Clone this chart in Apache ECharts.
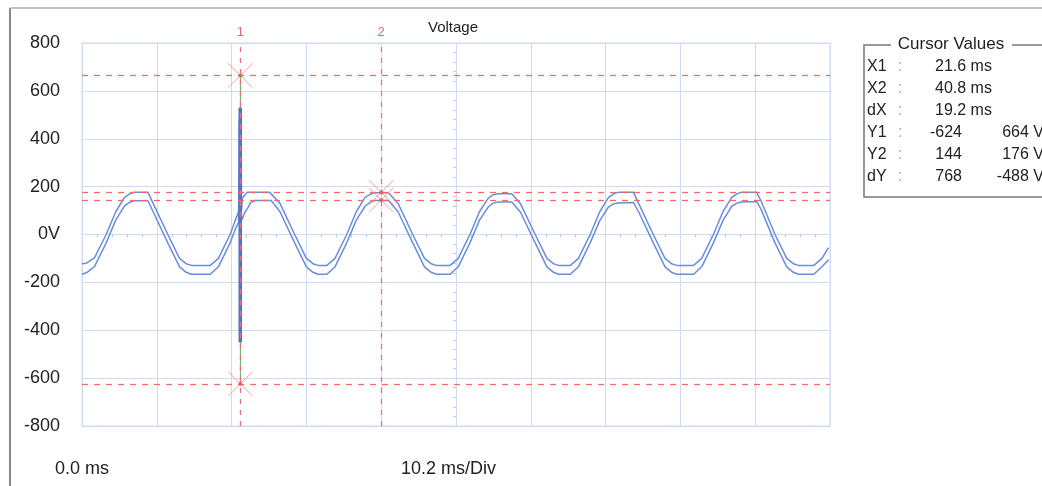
<!DOCTYPE html>
<html>
<head>
<meta charset="utf-8">
<script src="https://cdn.jsdelivr.net/npm/echarts@6/dist/echarts.min.js"></script>
<style>
html,body{margin:0;padding:0;background:#fff;}
#chart{width:1042px;height:486px;}
</style>
</head>
<body>
<div id="chart"></div>
<script>
// ---- data (time in ms, voltage in V) ----
const upperTrace = [
  [0,-122],[0.6,-120],[1.7,-98],[3.3,0],[4.6,95],[5.8,155],[6.5,170],[7.1,176],[9.0,176],[9.7,130],[11.7,0],[13.3,-100],[14.2,-122],[14.9,-129],
  [17.5,-129],[18.6,-100],[20.2,0],[21.0,68],[21.35,95],
  [21.45,250],[21.5,530],[21.54,-450],[21.58,520],[21.62,-440],[21.66,258],[21.69,-104],[21.72,258],[21.76,100],[21.85,150],[22.2,165],[22.5,176],
  [25.6,176],[27.0,130],[29.0,0],[30.6,-100],[31.5,-122],[32.2,-129],
  [33.4,-129],[34.5,-100],[36.1,0],[37.4,95],[38.6,155],[39.3,168],[39.9,174],[41.8,174],[43.1,130],[45.1,0],[46.7,-100],[47.6,-122],[48.3,-129],
  [50.2,-129],[51.3,-100],[52.9,0],[54.2,95],[55.4,152],[56.0,165],[56.7,170],[58.6,170],[59.8,128],[61.8,0],[63.4,-100],[64.3,-122],[65.0,-129],
  [66.6,-129],[67.7,-100],[69.3,0],[70.6,95],[71.8,155],[72.5,170],[73.1,176],[75.2,176],[75.9,130],[77.9,0],[79.5,-100],[80.4,-122],[81.1,-129],
  [83.4,-129],[84.5,-100],[86.1,0],[87.4,95],[88.6,155],[89.3,170],[89.9,176],[92.0,176],[92.6,140],[94.5,0],[96.1,-100],[97.0,-122],[97.7,-129],
  [99.8,-129],[100.9,-100],[101.8,-55]
];
const lowerTrace = [
  [0,-166],[0.6,-160],[1.7,-134],[3.3,-35],[4.6,60],[5.8,120],[6.5,135],[7.1,141],[9.0,141],[9.7,95],[11.7,-35],[13.3,-135],[14.2,-158],[14.9,-166],
  [17.5,-166],[18.6,-135],[20.2,-35],[21.0,30],[21.35,50],
  [21.45,480],[21.52,-440],[21.56,500],[21.6,-430],[21.64,-80],[21.7,90],[21.78,60],[22.2,92],[22.6,110],[23.0,133],[23.6,142],
  [25.8,142],[27.0,95],[29.0,-35],[30.6,-135],[31.5,-158],[32.2,-166],
  [33.4,-166],[34.5,-135],[36.1,-35],[37.4,60],[38.6,118],[39.3,134],[39.9,142],[41.8,142],[43.1,95],[45.1,-35],[46.7,-135],[47.6,-158],[48.3,-166],
  [50.2,-166],[51.3,-135],[52.9,-35],[54.2,60],[55.4,115],[56.0,130],[56.7,136],[58.6,136],[59.8,93],[61.8,-35],[63.4,-135],[64.3,-158],[65.0,-166],
  [66.6,-166],[67.7,-135],[69.3,-35],[70.6,58],[71.8,115],[72.5,128],[73.1,132],[75.2,134],[75.9,95],[77.9,-35],[79.5,-135],[80.4,-158],[81.1,-166],
  [83.4,-166],[84.5,-135],[86.1,-35],[87.4,58],[88.6,118],[89.3,131],[89.9,136],[92.0,138],[92.6,105],[94.5,-35],[96.1,-135],[97.0,-158],[97.7,-166],
  [99.8,-166],[100.9,-135],[101.8,-105]
];
const spikeBand = [[21.58,530],[21.58,-450]];
const spikeLine = [[21.6,664],[21.6,-624]];
const cursorX = [21.6, 40.8];
const cursorY1 = [-624, 664];
const cursorY2 = [144, 176];
const cursorNames = ['1','2'];
const yTickLabels = {'-800':'-800','-600':'-600','-400':'-400','-200':'-200','0':'0V','200':'200','400':'400','600':'600','800':'800'};
const timeDiv = 10.2;
const divisions = 10;
const startLabel = '0.0 ms';
const divLabel = '10.2 ms/Div';

// ---- chart ----
const FONT = "'Liberation Sans', Arial, sans-serif";
const chart = echarts.init(document.getElementById('chart'), null, {renderer:'canvas'});

const dX = (cursorX[1]-cursorX[0]).toFixed(1);
const dY = [cursorY2[0]-cursorY1[0], cursorY2[1]-cursorY1[1]];
const rows = [
  {k:'X1', b:cursorX[0].toFixed(1)+' ms'},
  {k:'X2', b:cursorX[1].toFixed(1)+' ms'},
  {k:'dX', b:dX+' ms'},
  {k:'Y1', a:String(cursorY1[0]), c:cursorY1[1]+' V'},
  {k:'Y2', a:String(cursorY2[0]), c:cursorY2[1]+' V'},
  {k:'dY', a:String(dY[0]), c:dY[1]+' V'}
];
const rowY0 = 67, rowStep = 22;
const boxTexts = [];
rows.forEach((r,i)=>{
  const y = rowY0 + i*rowStep;
  boxTexts.push({type:'text', x:867, y:y, style:{text:r.k, font:'16px '+FONT, fill:'#222', verticalAlign:'middle', align:'left'}});
  boxTexts.push({type:'text', x:898, y:y, style:{text:':', font:'16px '+FONT, fill:'#aaa', verticalAlign:'middle', align:'left'}});
  if (r.c === undefined) {
    boxTexts.push({type:'text', x:935, y:y, style:{text:r.b, font:'16px '+FONT, fill:'#222', verticalAlign:'middle', align:'left'}});
  } else {
    boxTexts.push({type:'text', x:962, y:y, style:{text:r.a, font:'16px '+FONT, fill:'#222', verticalAlign:'middle', align:'right'}});
    boxTexts.push({type:'text', x:1044, y:y, style:{text:r.c, font:'16px '+FONT, fill:'#222', verticalAlign:'middle', align:'right'}});
  }
});

const markerPath = 'path://M0,1L1,0L40,39L39,40Z M39,0L40,1L1,40L0,39Z';
const markers = [
  [cursorX[0], cursorY1[1]], [cursorX[0], cursorY1[0]],
  [cursorX[1], cursorY2[1]], [cursorX[1], cursorY2[0]]
];

const gridColor = '#cddbf4';
const tickColor = '#b9cbee';
const hLine = (v)=>({yAxis:v, lineStyle:{color:'#f06a6a', type:[6,6], width:1.3}, label:{show:false}});
const vLine = (v,name,color)=>({xAxis:v, lineStyle:{color:color, type:[5,6], width:1.3},
  label:{show:true, position:'end', formatter:name, color:'#e06a6a', fontSize:13, fontFamily:FONT, distance:4}});

const option = {
  backgroundColor:'#ffffff',
  animation:false,
  title:{
    text:'Voltage', left:423, top:15,
    textStyle:{fontFamily:FONT, fontSize:15, fontWeight:'normal', color:'#222'}
  },
  grid:{left:82, right:212, top:43, bottom:60, show:true, borderColor:gridColor, borderWidth:1, backgroundColor:'transparent'},
  xAxis:[{
    type:'value', min:0, max:timeDiv*divisions, interval:timeDiv,
    axisLabel:{show:false},
    axisLine:{show:true, onZero:true, lineStyle:{color:gridColor}},
    axisTick:{show:false},
    minorTick:{show:true, splitNumber:5, length:3, lineStyle:{color:tickColor}},
    splitLine:{show:true, lineStyle:{color:gridColor, width:1}}
  }],
  yAxis:[{
    type:'value', min:-800, max:800, interval:200,
    axisLine:{show:false}, axisTick:{show:false},
    axisLabel:{margin:22, fontFamily:FONT, fontSize:18, color:'#222',
      formatter:(v)=> yTickLabels[String(v)] !== undefined ? yTickLabels[String(v)] : String(v)},
    splitLine:{show:true, lineStyle:{color:gridColor, width:1}}
  },{
    type:'value', min:-800, max:800, interval:200, position:'left', offset:-374,
    axisLine:{show:true, lineStyle:{color:gridColor}},
    axisTick:{show:false}, axisLabel:{show:false},
    minorTick:{show:true, splitNumber:5, length:3, lineStyle:{color:tickColor}},
    splitLine:{show:false}
  }],
  graphic:[
    {type:'line', shape:{x1:10,y1:8,x2:10,y2:486}, style:{stroke:'#888', lineWidth:2}},
    {type:'line', shape:{x1:10,y1:8,x2:1042,y2:8}, style:{stroke:'#b0b0b0', lineWidth:1.5}},
    {type:'text', x:55, y:469, style:{text:startLabel, font:'18px '+FONT, fill:'#222', verticalAlign:'middle', align:'left'}},
    {type:'text', x:401, y:469, style:{text:divLabel, font:'18px '+FONT, fill:'#222', verticalAlign:'middle', align:'left'}},
    {type:'polyline', shape:{points:[[891,45],[864,45],[864,197],[1042,197]]}, style:{stroke:'#777', lineWidth:1.5, fill:null}},
    {type:'line', shape:{x1:1012,y1:45,x2:1042,y2:45}, style:{stroke:'#777', lineWidth:1.5}},
    {type:'text', x:951, y:44, style:{text:'Cursor Values', font:'17px '+FONT, fill:'#222', verticalAlign:'middle', align:'center'}}
  ].concat(boxTexts),
  series:[
    {
      type:'line', data:spikeLine, symbol:'none', silent:true,
      lineStyle:{color:'#5cb85c', width:1}, z:2,
      markLine:{
        silent:true, symbol:['none','none'], animation:false,
        data:[
          vLine(cursorX[0], cursorNames[0], '#e46f86'),
          vLine(cursorX[1], cursorNames[1], '#d874a4'),
          hLine(cursorY1[1]), hLine(cursorY2[1]), hLine(cursorY2[0]), hLine(cursorY1[0])
        ]
      }
    },
    {type:'line', data:upperTrace, symbol:'none', silent:true, lineStyle:{color:'#6a8ddb', width:1.5}, z:3},
    {type:'line', data:lowerTrace, symbol:'none', silent:true, lineStyle:{color:'#6a8ddb', width:1.5}, z:3},
    {type:'line', data:spikeBand, symbol:'none', silent:true, lineStyle:{color:'#5373c8', width:3.5}, z:4},
    {type:'scatter', data:markers, symbol:markerPath, symbolSize:25, silent:true,
      itemStyle:{color:'#f29a9a'}, z:5},
    {type:'scatter', data:markers, symbol:'circle', symbolSize:4, silent:true,
      itemStyle:{color:'#e05858'}, z:6}
  ]
};
chart.setOption(option);
</script>
</body>
</html>
